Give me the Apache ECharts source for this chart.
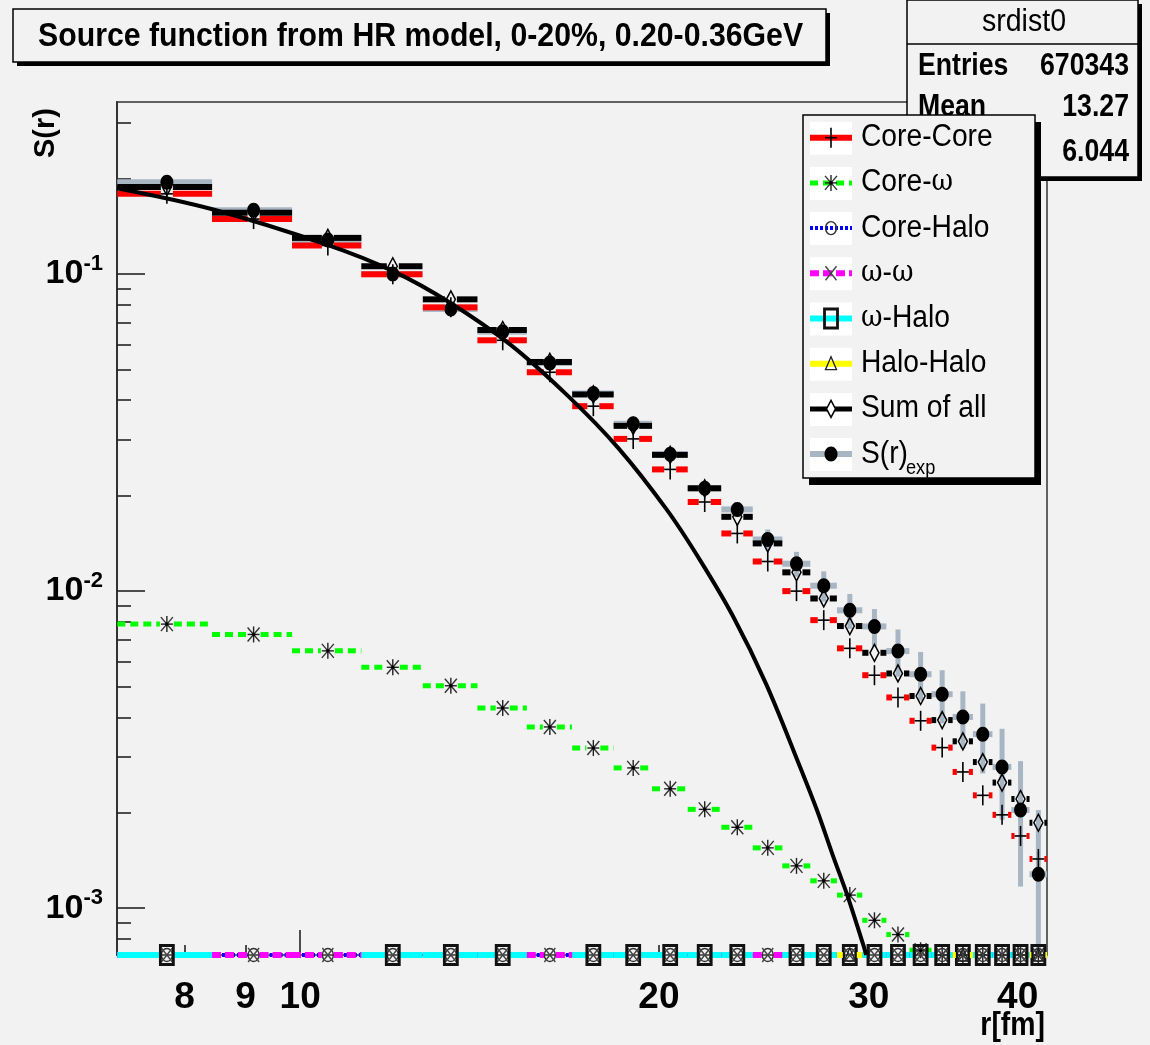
<!DOCTYPE html>
<html>
<head>
<meta charset="utf-8">
<title>Source function from HR model</title>
<script src="https://cdn.jsdelivr.net/npm/echarts@6/dist/echarts.min.js"></script>
<style>
  html, body { margin: 0; padding: 0; background: #f2f2f2; }
  #chart { width: 1150px; height: 1045px; }
</style>
</head>
<body>
<div id="chart"></div>
<script>
// ---- binning (r in fm) ----
const binCenters = [7.73, 9.14, 10.55, 11.96, 13.38, 14.79, 16.20, 17.62, 19.03, 20.44,
                    21.85, 23.27, 24.68, 26.09, 27.50, 28.92, 30.33, 31.74, 33.16, 34.57,
                    35.98, 37.39, 38.81, 40.22, 41.63];
const binHalfWidth = 0.706;

// ---- histogram contents ----
const coreCore = [0.179, 0.149, 0.123, 0.0998, 0.0785, 0.0618, 0.049, 0.0383, 0.0302, 0.0242,
                  0.0191, 0.0152, 0.0124, 0.0100, 0.0081, 0.0066, 0.00543, 0.00462, 0.0039, 0.00321,
                  0.00269, 0.00227, 0.00197, 0.00169, 0.00143];
const coreOmega = [0.00787, 0.0073, 0.00648, 0.00575, 0.00503, 0.00428, 0.00373, 0.0032, 0.00277, 0.00238,
                   0.00205, 0.0018, 0.00155, 0.00136, 0.00122, 0.0011, 0.000916, 0.000826, 0.000737, 0,
                   0, 0, 0, 0, 0];
const coreHalo = [0, 0, 0, 0, 0, 0, 0, 0, 0, 0, 0, 0, 0, 0, 0, 0, 0, 0, 0, 0, 0, 0, 0, 0, 0];
const omegaOmega = [0, 0, 0, 0, 0, 0, 0, 0, 0, 0, 0, 0, 0, 0, 0, 0, 0, 0, 0, 0, 0, 0, 0, 0, 0];
const omegaHalo = [0, null, null, 0, 0, 0, null, 0, 0, 0, 0, 0, null, 0, 0, 0, 0, 0, 0, 0, 0, 0, 0, 0, 0];
const haloHalo = [null, null, null, null, null, null, null, null, null, null, null, null, null, null, null,
                  0, null, null, null, null, 0, null, null, null, 0];
const sumOfAll = [0.188, 0.156, 0.130, 0.1058, 0.0832, 0.0666, 0.0528, 0.0417, 0.0332, 0.0269,
                  0.0211, 0.01715, 0.01414, 0.01146, 0.00948, 0.00776, 0.00639, 0.0055, 0.00467, 0.00392,
                  0.00336, 0.00289, 0.00249, 0.00221, 0.00186];
const sExp = [0.1946, 0.159, 0.128, 0.100, 0.0776, 0.0658, 0.0524, 0.0420, 0.0337, 0.0270,
              0.0211, 0.0181, 0.01455, 0.0122, 0.0104, 0.0087, 0.00774, 0.00647, 0.00547, 0.00473,
              0.00401, 0.00354, 0.00279, 0.00204, 0.00128];
const sExpErr = [0.0010, 0.0010, 0.0010, 0.0010, 0.0010, 0.0010, 0.0010, 0.0010, 0.0010, 0.0010,
                 0.0010, 0.0010, 0.0011, 0.0011, 0.00114, 0.0011, 0.00104, 0.0011, 0.00096, 0.0009,
                 0.00082, 0.00088, 0.00089, 0.00087, 0.00076];

// ---- smooth model curve ----
const curveR = [7.02, 8.44, 10.54, 12.00, 13.36, 15.00, 16.75, 18.50, 20.32, 21.66,
                23.09, 24.60, 26.27, 27.14, 28.00, 28.80, 29.67, 29.85];
const curveS = [0.1864, 0.160, 0.1235, 0.1016, 0.0812, 0.0600, 0.0415, 0.0282, 0.0180, 0.0125,
                0.0083, 0.0051, 0.00279, 0.00204, 0.00146, 0.00109, 0.00077, 0.000712];

// ---- axis ticks ----
const xLabelValues = [8, 9, 10, 20, 30, 40];
const xShortTicks = [8, 9, 20, 30, 40];
const xLongTicks = [10];
const yLabelValues = [0.001, 0.01, 0.1];
const yMinorTicks = [0.0008, 0.0009, 0.002, 0.003, 0.004, 0.005, 0.006, 0.007, 0.008, 0.009,
                     0.02, 0.03, 0.04, 0.05, 0.06, 0.07, 0.08, 0.09, 0.2, 0.3];

const X_MIN = 7.02, X_MAX = 42.33, Y_MIN = 0.000712, Y_MAX = 0.3487;
const GRID = { left: 117, top: 102, width: 930, height: 853 };
const FONT = '"Liberation Sans", Arial, sans-serif';
const NARROW = '"Liberation Sans Narrow", "Liberation Sans", Arial, sans-serif';

// ---- drawing primitives ----
function seg(x1, y1, x2, y2, stroke, lw, dash) {
  return { type: 'line', shape: { x1, y1, x2, y2 },
           style: { stroke, lineWidth: lw, lineDash: dash || null, fill: 'none' } };
}
function markerShapes(type, x, y) {
  switch (type) {
    case 'plus':
      return [seg(x - 6, y, x + 6, y, '#000', 1.6), seg(x, y - 10, x, y + 10, '#000', 1.6)];
    case 'star':
      return [seg(x, y - 8, x, y + 8, '#222', 1.4), seg(x - 6, y, x + 6, y, '#222', 1.4),
              seg(x - 6, y - 7, x + 6, y + 7, '#333', 1.4), seg(x - 6, y + 7, x + 6, y - 7, '#333', 1.4),
              { type: 'circle', shape: { cx: x, cy: y, r: 1.8 }, style: { fill: '#000' } }];
    case 'ring':
      return [{ type: 'ellipse', shape: { cx: x, cy: y, rx: 5.5, ry: 6.5 },
                style: { fill: 'none', stroke: '#333', lineWidth: 1.4 } }];
    case 'cross':
      return [seg(x - 5.5, y - 7, x + 5.5, y + 7, '#444', 1.4), seg(x - 5.5, y + 7, x + 5.5, y - 7, '#444', 1.4)];
    case 'square':
      return [{ type: 'rect', shape: { x: x - 6.5, y: y - 9.5, width: 13, height: 19 },
                style: { fill: 'none', stroke: '#111', lineWidth: 2.8 } }];
    case 'triangle':
      return [{ type: 'polygon', shape: { points: [[x, y - 7], [x - 5.5, y + 6], [x + 5.5, y + 6]] },
                style: { fill: 'none', stroke: '#222', lineWidth: 1.3 } }];
    case 'diamond':
      return [{ type: 'polygon', shape: { points: [[x, y - 8.5], [x + 4.5, y], [x, y + 8.5], [x - 4.5, y]] },
                style: { fill: 'none', stroke: '#000', lineWidth: 1.5 } }];
    case 'diamondOpen':
      return [{ type: 'polygon', shape: { points: [[x, y - 8.5], [x + 4.5, y], [x, y + 8.5], [x - 4.5, y]] },
                style: { fill: '#fff', stroke: '#000', lineWidth: 1.5 } }];
    case 'dot':
      return [{ type: 'ellipse', shape: { cx: x, cy: y, rx: 6.5, ry: 7.5 }, style: { fill: '#000' } }];
  }
  return [];
}

// each histogram: bin-wide horizontal bar (gap around the marker), optional vertical error, marker
function histRenderer(look) {
  return function (params, api) {
    const c = api.value(0);
    const v = Math.max(api.value(1), Y_MIN);
    const lo = api.value(2), hi = api.value(3), err = api.value(4);
    const p = api.coord([c, v]);
    const xl = api.coord([lo, v])[0], xr = api.coord([hi, v])[0];
    const kids = [];
    if (look.errColor && err > 0) {
      const yt = api.coord([c, v + err])[1];
      const yb = api.coord([c, Math.max(v - err, Y_MIN)])[1];
      kids.push(seg(p[0], yt, p[0], yb, look.errColor, look.errWidth));
    }
    const g = look.gap;
    if (p[0] - g > xl) kids.push(seg(xl, p[1], p[0] - g, p[1], look.color, look.width, look.dash));
    if (xr > p[0] + g) kids.push(seg(p[0] + g, p[1], xr, p[1], look.color, look.width, look.dash));
    markerShapes(look.marker, p[0], p[1]).forEach(s => kids.push(s));
    return { type: 'group', children: kids };
  };
}
function histData(values, errs) {
  const out = [];
  binCenters.forEach((c, i) => {
    if (values[i] == null) return;
    out.push([c, values[i], c - binHalfWidth, c + binHalfWidth, errs ? errs[i] : 0]);
  });
  return out;
}

const looks = {
  coreCore:   { color: '#ff0000', width: 6, gap: 6, marker: 'plus' },
  coreOmega:  { color: '#00ff00', width: 5, gap: 7, dash: [8, 5], marker: 'star' },
  coreHalo:   { color: '#0000ff', width: 4, gap: 6, dash: [3, 2], marker: 'ring' },
  omegaOmega: { color: '#ff00ff', width: 6, gap: 6, dash: [9, 4], marker: 'cross' },
  omegaHalo:  { color: '#00ffff', width: 6, gap: 7, marker: 'square' },
  haloHalo:   { color: '#ffff00', width: 6, gap: 7, marker: 'triangle' },
  sumOfAll:   { color: '#000000', width: 6, gap: 6, marker: 'diamond' },
  sExp:       { color: '#a8b6c4', width: 6, gap: 6, marker: 'dot', errColor: '#a8b6c4', errWidth: 5 }
};

function histSeries(name, values, look, z, errs) {
  return {
    type: 'custom', name, coordinateSystem: 'cartesian2d', xAxisIndex: 0, yAxisIndex: 0,
    clip: false, z, silent: true,
    encode: { x: 0, y: 1 },
    data: histData(values, errs),
    renderItem: histRenderer(look)
  };
}

// ---- legend, title and statistics boxes ----
const legendRows = [
  { text: 'Core-Core', look: looks.coreCore },
  { text: 'Core-{w|ω}', look: looks.coreOmega },
  { text: 'Core-Halo', look: looks.coreHalo },
  { text: '{w|ω}-{w|ω}', look: looks.omegaOmega },
  { text: '{w|ω}-Halo', look: looks.omegaHalo },
  { text: 'Halo-Halo', look: looks.haloHalo },
  { text: 'Sum of all', look: Object.assign({}, looks.sumOfAll, { width: 5, marker: 'diamondOpen' }) },
  { text: 'S(r)', look: looks.sExp, sub: 'exp' }
];

function label(x, y, str, size, opts) {
  opts = opts || {};
  return {
    type: 'text', x, y, z: opts.z || 120, scaleX: opts.sx || 0.92,
    rotation: opts.rotation || 0,
    style: {
      text: str, fill: '#000', fontSize: size, fontFamily: FONT,
      fontWeight: opts.bold ? 'bold' : 'normal',
      align: opts.align || 'left', verticalAlign: 'middle',
      rich: { w: { fontFamily: '"DejaVu Serif", "Liberation Serif", serif', fontSize: size - 2, fontWeight: 'normal' } }
    }
  };
}

const graphics = [];
// title box
graphics.push({ type: 'rect', z: 100, shape: { x: 17, y: 13, width: 813, height: 53 }, style: { fill: '#000' } });
graphics.push({ type: 'rect', z: 101, shape: { x: 13, y: 9, width: 813, height: 53 },
                style: { fill: '#f2f2f2', stroke: '#000', lineWidth: 1.5 } });
graphics.push(label(38, 37, 'Source function from HR model, 0-20%, 0.20-0.36GeV', 34, { bold: true, sx: 0.89, z: 102 }));

// statistics box
graphics.push({ type: 'rect', z: 100, shape: { x: 911, y: 4, width: 231, height: 177 }, style: { fill: '#000' } });
graphics.push({ type: 'rect', z: 101, shape: { x: 907, y: 0, width: 231, height: 177 },
                style: { fill: '#f2f2f2', stroke: '#000', lineWidth: 1.5 } });
graphics.push({ type: 'line', z: 102, shape: { x1: 907, y1: 44, x2: 1138, y2: 44 }, style: { stroke: '#000', lineWidth: 1.5 } });
graphics.push(label(1024, 22, 'srdist0', 31, { align: 'center', z: 102 }));
graphics.push(label(918, 66, 'Entries', 31, { bold: true, sx: 0.86, z: 102 }));
graphics.push(label(1129, 66, '670343', 31, { bold: true, sx: 0.86, align: 'right', z: 102 }));
graphics.push(label(918, 107, 'Mean', 31, { bold: true, sx: 0.86, z: 102 }));
graphics.push(label(1129, 107, '13.27', 31, { bold: true, sx: 0.86, align: 'right', z: 102 }));
graphics.push(label(918, 152, 'RMS', 31, { bold: true, sx: 0.86, z: 102 }));
graphics.push(label(1129, 152, '6.044', 31, { bold: true, sx: 0.86, align: 'right', z: 102 }));

// legend box
const LG = { x: 803, y: 115, w: 232, h: 363, row0: 137.7, step: 45.2 };
graphics.push({ type: 'rect', z: 110, shape: { x: LG.x + 6, y: LG.y + 7, width: LG.w, height: LG.h }, style: { fill: '#000' } });
graphics.push({ type: 'rect', z: 111, shape: { x: LG.x, y: LG.y, width: LG.w, height: LG.h },
                style: { fill: '#f2f2f2', stroke: '#000', lineWidth: 1.5 } });
legendRows.forEach((row, i) => {
  const yc = LG.row0 + i * LG.step;
  graphics.push({ type: 'rect', z: 112, shape: { x: 810, y: yc - 16, width: 42, height: 33 }, style: { fill: '#fff' } });
  graphics.push(Object.assign(seg(810, yc, 852, yc, row.look.color, row.look.width, row.look.dash), { z: 113 }));
  markerShapes(row.look.marker, 831, yc).forEach(s => graphics.push(Object.assign(s, { z: 114 })));
  graphics.push(label(861, yc, row.text, 31, { sx: 0.91, z: 114 }));
  if (row.sub) graphics.push(label(906, yc + 14, row.sub, 20, { sx: 0.91, z: 114 }));
});

// axis titles
graphics.push(label(46, 133, 'S(r)', 29, { bold: true, align: 'center', rotation: Math.PI / 2, sx: 1, z: 60 }));
graphics.push(label(1045, 1026, 'r[fm]', 33, { bold: true, align: 'right', sx: 0.86, z: 60 }));

const tickLine = { color: '#222', width: 1.6 };
const labelFont = { fontFamily: NARROW, fontWeight: 'bold', color: '#000' };

const option = {
  backgroundColor: '#f2f2f2',
  animation: false,
  grid: [
    Object.assign({ show: true, borderColor: '#333', borderWidth: 1.5, backgroundColor: 'transparent' }, GRID),
    Object.assign({ show: false }, GRID)
  ],
  xAxis: [
    {
      type: 'log', logBase: 10, gridIndex: 0, min: X_MIN, max: X_MAX,
      axisLine: { show: false },
      axisTick: { show: true, inside: true, length: 10, customValues: xShortTicks, lineStyle: tickLine },
      axisLabel: Object.assign({ show: true, customValues: xLabelValues, margin: 24, fontSize: 37,
                                 formatter: v => String(Math.round(v)) }, labelFont),
      splitLine: { show: false }, minorTick: { show: false }
    },
    {
      type: 'log', logBase: 10, gridIndex: 1, min: X_MIN, max: X_MAX,
      axisLine: { show: false },
      axisTick: { show: true, inside: true, length: 25, customValues: xLongTicks, lineStyle: tickLine },
      axisLabel: { show: false }, splitLine: { show: false }
    }
  ],
  yAxis: [
    {
      type: 'log', logBase: 10, gridIndex: 0, min: Y_MIN, max: Y_MAX,
      axisLine: { show: true, lineStyle: { color: '#333', width: 2 } },
      axisTick: { show: true, inside: true, length: 14, customValues: yMinorTicks, lineStyle: tickLine },
      axisLabel: {
        show: true, customValues: yLabelValues, margin: 14,
        formatter: v => '{b|10}{s|' + Math.round(Math.log10(v)) + '}',
        rich: {
          b: Object.assign({ fontSize: 34, lineHeight: 42, verticalAlign: 'middle' }, labelFont),
          s: Object.assign({ fontSize: 22, lineHeight: 22, verticalAlign: 'top' }, labelFont)
        }
      },
      splitLine: { show: false }, minorTick: { show: false }
    },
    {
      type: 'log', logBase: 10, gridIndex: 1, min: Y_MIN, max: Y_MAX,
      axisLine: { show: false },
      axisTick: { show: true, inside: true, length: 28, customValues: yLabelValues, lineStyle: tickLine },
      axisLabel: { show: false }, splitLine: { show: false }
    }
  ],
  series: [
    histSeries('S(r)exp', sExp, looks.sExp, 2, sExpErr),
    histSeries('Core-Core', coreCore, looks.coreCore, 3),
    histSeries('Core-ω', coreOmega, looks.coreOmega, 4),
    histSeries('Core-Halo', coreHalo, looks.coreHalo, 5),
    histSeries('ω-ω', omegaOmega, looks.omegaOmega, 6),
    histSeries('ω-Halo', omegaHalo, looks.omegaHalo, 7),
    histSeries('Halo-Halo', haloHalo, looks.haloHalo, 8),
    histSeries('Sum of all', sumOfAll, looks.sumOfAll, 9),
    {
      type: 'line', name: 'model', xAxisIndex: 0, yAxisIndex: 0, z: 10,
      data: curveR.map((r, i) => [r, curveS[i]]),
      smooth: 0.35, showSymbol: false, silent: true, clip: false,
      lineStyle: { color: '#000', width: 4 }
    }
  ],
  graphic: graphics
};

const chart = echarts.init(document.getElementById('chart'), null, { renderer: 'canvas' });
chart.setOption(option);
</script>
</body>
</html>
